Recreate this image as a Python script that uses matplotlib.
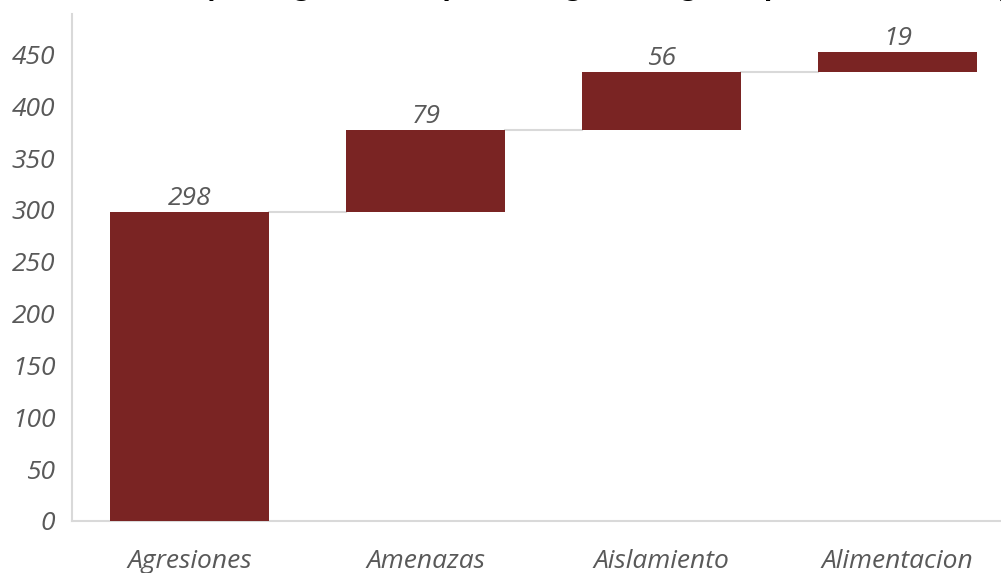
import numpy as np
import matplotlib.pyplot as plt

# Datos de la cascada
categorias = ['Agresiones', 'Amenazas', 'Aislamiento', 'Alimentacion']
valores = [298, 79, 56, 19]
y_ticks = [0, 50, 100, 150, 200, 250, 300, 350, 400, 450]
titulo = 'Número de casos y de agresiones por categoría según tipo de violencia (Q1)'

color_barra = '#7a2423'
color_texto = '#595959'
color_eje = '#d9d9d9'

fig = plt.figure(figsize=(10.01, 5.73), dpi=100)
ax = fig.add_axes([72 / 1001, 1 - 521 / 573, (1015.5 - 72) / 1001, (521 - 14) / 573])

valores = np.array(valores)
fin = np.cumsum(valores)
inicio = fin - valores
x = np.arange(len(categorias))
ancho = 0.674

ax.bar(x, valores, bottom=inicio, width=ancho, color=color_barra, zorder=3)

# Lineas de union entre barras
for i in range(len(categorias) - 1):
    ax.plot([x[i] + ancho / 2, x[i + 1] - ancho / 2], [fin[i], fin[i]],
            color=color_eje, lw=1.5, zorder=2)

# Etiquetas de valor
for xi, top, v in zip(x, fin, valores):
    ax.annotate(str(v), (xi, top), xytext=(0, 1), textcoords='offset points',
                ha='center', va='bottom', fontsize=19, style='italic',
                color=color_texto, family='Open Sans')

ax.set_xlim(-0.5, len(categorias) - 0.5)
ax.set_ylim(0, 489)
ax.set_xticks(x)
ax.set_xticklabels(categorias)
ax.set_yticks(y_ticks)

for lbl in ax.get_xticklabels() + ax.get_yticklabels():
    lbl.set_fontsize(19)
    lbl.set_style('italic')
    lbl.set_color(color_texto)
    lbl.set_family('Open Sans')

ax.tick_params(axis='both', length=0)
ax.tick_params(axis='x', pad=20)
ax.tick_params(axis='y', pad=12)

for lado in ['top', 'right']:
    ax.spines[lado].set_visible(False)
for lado in ['left', 'bottom']:
    ax.spines[lado].set_color(color_eje)
    ax.spines[lado].set_linewidth(1.5)

# Titulo cortado en la parte superior (solo se ven los trazos inferiores)
fig.text(0.5, 1.008, titulo, ha='center', va='baseline', fontsize=24,
         fontweight='bold', family='Lato', color='black')

fig.savefig('out.png', dpi=100)
